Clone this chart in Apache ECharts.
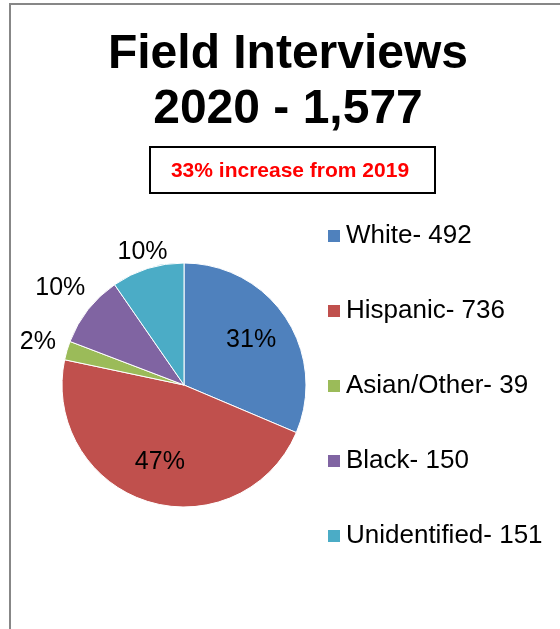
<!DOCTYPE html>
<html>
<head>
<meta charset="utf-8">
<title>Field Interviews 2020</title>
<script src="https://cdn.jsdelivr.net/npm/echarts@6/dist/echarts.min.js"></script>
<style>
  html, body { margin: 0; padding: 0; background: #fff; }
  #chart { width: 560px; height: 629px; }
</style>
</head>
<body>
<div id="chart"></div>
<script>
// Field interviews by group, 2020
const categories = ['White', 'Hispanic', 'Asian/Other', 'Black', 'Unidentified'];
const counts = [492, 736, 39, 150, 151];
const colors = ['#4F81BD', '#C0504D', '#9BBB59', '#8064A2', '#4BACC6'];
const titleLines = ['Field Interviews', '2020 - 1,577'];
const changeNote = '33% increase from 2019';
// slices whose percentage sits inside the pie
const insideLabels = [true, true, false, false, false];

const FONT = '"Liberation Sans", Arial, sans-serif';
const CX = 184, CY = 385, R = 122;
const LABEL_SIZE = 25;

const legendNames = categories.map((c, i) => c + '- ' + counts[i]);
const total = counts.reduce((a, b) => a + b, 0);

// mid-angle of each slice, clockwise from 12 o'clock
const midAngles = [];
(function () {
  let acc = 0;
  counts.forEach(v => {
    midAngles.push((acc + v / 2) / total * Math.PI * 2);
    acc += v;
  });
})();

const chart = echarts.init(document.getElementById('chart'), null, { renderer: 'canvas' });

chart.setOption({
  animation: false,
  color: colors,
  graphic: [
    { type: 'rect', silent: true,
      shape: { x: 10, y: 4, width: 620, height: 700 },
      style: { fill: 'none', stroke: '#878787', lineWidth: 2 } },
    { type: 'text', silent: true, x: 288, y: 55,
      style: { text: titleLines[0], font: 'bold 48px ' + FONT, fill: '#000',
               align: 'center', verticalAlign: 'middle' } },
    { type: 'text', silent: true, x: 288, y: 110,
      style: { text: titleLines[1], font: 'bold 48px ' + FONT, fill: '#000',
               align: 'center', verticalAlign: 'middle' } },
    { type: 'rect', silent: true,
      shape: { x: 150, y: 147, width: 285, height: 46 },
      style: { fill: '#fff', stroke: '#000', lineWidth: 2 } },
    { type: 'text', silent: true, x: 290, y: 171,
      style: { text: changeNote, font: 'bold 21px ' + FONT, fill: '#FF0000',
               align: 'center', verticalAlign: 'middle' } }
  ],
  legend: {
    orient: 'vertical',
    left: 326,
    top: 221,
    padding: 0,
    icon: 'rect',
    itemWidth: 14,
    itemHeight: 14,
    itemGap: 45,
    textStyle: { fontFamily: FONT, fontSize: 26, color: '#000', lineHeight: 30 },
    data: legendNames
  },
  series: [{
    type: 'pie',
    center: [CX, CY],
    radius: R,
    startAngle: 90,
    clockwise: true,
    percentPrecision: 0,
    avoidLabelOverlap: false,
    itemStyle: { borderColor: '#fff', borderWidth: 1 },
    label: {
      show: true,
      position: 'outside',
      formatter: '{d}%',
      fontFamily: FONT,
      fontSize: LABEL_SIZE,
      color: '#000'
    },
    labelLine: { show: false },
    labelLayout: function (p) {
      const i = p.dataIndex;
      const a = midAngles[i];
      const dx = Math.sin(a), dy = -Math.cos(a);
      let dist;
      if (insideLabels[i]) {
        dist = R * 0.66;
      } else {
        // keep the label box clear of the rim along the slice's mid-line
        const w = p.labelRect.width;
        dist = R - 19 + Math.abs(dx) * (w / 2 + 27) + Math.abs(dy) * (LABEL_SIZE / 2 + 9);
      }
      return { x: CX + dx * dist, y: CY + dy * dist, align: 'center', verticalAlign: 'middle' };
    },
    emphasis: { disabled: true },
    data: categories.map((c, i) => ({ name: legendNames[i], value: counts[i] }))
  }]
});
</script>
</body>
</html>
